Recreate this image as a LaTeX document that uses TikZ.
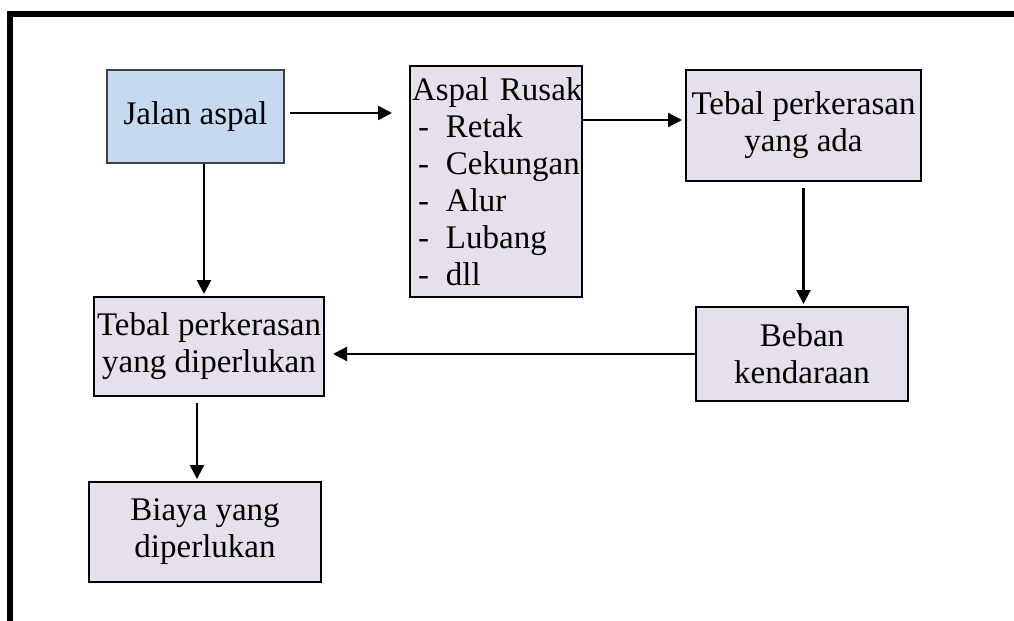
\documentclass[tikz,border=0pt]{standalone}
\usepackage{fontspec}
\setmainfont{Liberation Serif}
\usepackage{tikz}
\usetikzlibrary{arrows.meta, positioning, calc}
\definecolor{jalanblue}{HTML}{C6D9F0}
\definecolor{boxlilac}{HTML}{E5E0EC}
\tikzset{
	block/.style={rectangle, draw, line width=1pt, fill=boxlilac, align=center, inner sep=1.5pt, font=\fontsize{16.5}{18.5}\selectfont},
	arr/.style={-{Triangle[length=7pt, width=7pt]}, line width=1.2pt}
}

\begin{document}
\begin{tikzpicture}[
        x=0.5pt, y=-0.5pt,
        frame/.style={line width=3pt}
    ]
        \useasboundingbox (0, 0) rectangle (1014, 621);
        \draw[frame] (10, 621) -- (10, 14) -- (1014, 14);

        \node[block, fill=jalanblue, draw=black!75, minimum width=88.5pt, minimum height=46.5pt] (jalan) at (195.5, 116.5) {Jalan aspal};
        \node[block, align=left, text width=84pt, inner xsep=1pt, minimum height=115.5pt] (rusak) at (496, 181.5) {\mbox{Aspal Rusak}\\
            \hspace*{3pt}\makebox[14pt][l]{-}Retak\\
            \hspace*{3pt}\makebox[14pt][l]{-}Cekungan\\
            \hspace*{3pt}\makebox[14pt][l]{-}Alur\\
            \hspace*{3pt}\makebox[14pt][l]{-}Lubang\\
            \hspace*{3pt}\makebox[14pt][l]{-}dll};
        \node[block, minimum width=117.5pt, minimum height=55.5pt] (ada) at (803.5, 125.5) {Tebal perkerasan\\yang ada};
        \node[block, minimum width=106pt, minimum height=47pt] (beban) at (802, 354) {Beban\\kendaraan};
        \node[block, minimum width=115pt, minimum height=49.5pt] (perlu) at (209, 346.5) {Tebal perkerasan\\yang diperlukan};
        \node[block, minimum width=116pt, minimum height=50pt] (biaya) at (205, 532) {Biaya yang\\diperlukan};

        \coordinate (j1) at ($(jalan.east)+(0,1.75pt)$);
        \draw[arr, shorten <=2.5pt, shorten >=8.5pt] (j1) -- (j1 -| rusak.west);
        \coordinate (r1) at ($(ada.west)+(0,2.75pt)$);
        \draw[arr, shorten >=1.5pt] (r1 -| rusak.east) -- (r1);
        \draw[arr, shorten <=3pt, shorten >=1pt] (ada.south) -- (ada.south |- beban.north);
        \draw[arr, shorten >=4pt] (beban.west) -- (beban.west -| perlu.east);
        \coordinate (j2) at ($(jalan.south)+(4.25pt,0)$);
        \draw[arr, shorten >=1pt] (j2) -- (j2 |- perlu.north);
        \coordinate (p1) at ($(perlu.south)+(-6pt,0)$);
        \draw[arr, shorten <=3pt, shorten >=1pt] (p1) -- (p1 |- biaya.north);
    \end{tikzpicture}
\end{document}
